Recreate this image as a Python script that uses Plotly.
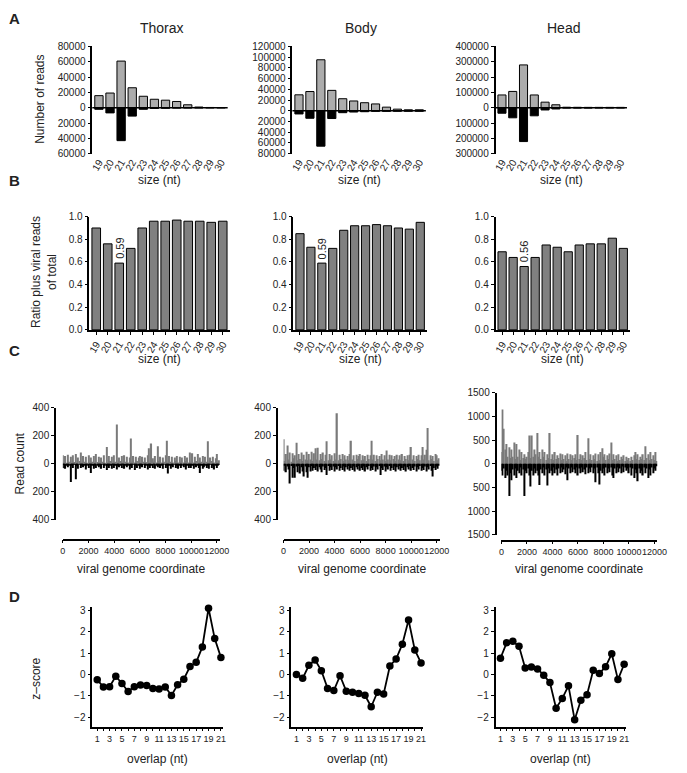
import plotly.graph_objects as go

W, H = 687, 773

# ---- data ----
sizes = list(range(19, 31))
tissues = ['Thorax', 'Body', 'Head']

# A: number of reads per size, plus strand (up) and minus strand (down)
thorax_plus = [15700, 19100, 60800, 26000, 14900, 11000, 9800, 8100, 3800, 850, 300, 200]
thorax_minus = [-2100, -6800, -43000, -11000, -2100, -1000, -800, -500, -300, -200, -100, -100]
body_plus = [29700, 35800, 95000, 38000, 22400, 18200, 15000, 12700, 6700, 3000, 1800, 1800]
body_minus = [-6000, -14000, -66000, -14500, -3600, -2400, -1800, -1000, -1000, -800, -800, -800]
head_plus = [83000, 106000, 279000, 83000, 36000, 19000, 3000, 2500, 2000, 2000, 2000, 2000]
head_minus = [-36000, -66000, -221000, -53000, -15000, -8500, -2000, -2000, -2000, -1500, -1500, -1500]

# B: ratio plus viral reads of total
thorax_ratio = [0.90, 0.76, 0.59, 0.72, 0.90, 0.96, 0.96, 0.97, 0.96, 0.96, 0.95, 0.96]
body_ratio = [0.85, 0.73, 0.59, 0.72, 0.88, 0.92, 0.92, 0.93, 0.92, 0.90, 0.89, 0.95]
head_ratio = [0.69, 0.64, 0.56, 0.64, 0.75, 0.73, 0.69, 0.75, 0.76, 0.76, 0.81, 0.72]
ratio_labels = ['0.59', '0.59', '0.56']

# C: read counts along the viral genome (every 100 nt)
coords = list(range(0, 12201, 100))
thorax_cov_plus = [
    60, 10, 55, 5, 65, 15, 50, 8, 60, 12,
    70, 5, 45, 20, 80, 10, 55, 15, 50, 5,
    60, 10, 45, 15, 55, 8, 70, 12, 50, 10,
    45, 15, 60, 5, 120, 10, 55, 20, 50, 8,
    60, 15, 280, 10, 45, 20, 55, 10, 60, 15,
    50, 10, 45, 180, 15, 55, 10, 50, 20, 45,
    55, 10, 50, 15, 45, 12, 60, 110, 10, 145,
    40, 15, 55, 10, 125, 20, 50, 10, 45, 15,
    60, 165, 10, 55, 15, 50, 10, 45, 20, 55,
    10, 50, 15, 45, 10, 55, 20, 45, 10, 80,
    15, 75, 10, 50, 20, 70, 10, 45, 15, 55,
    10, 50, 15, 160, 10, 45, 20, 50, 10, 40,
    70, 10, 25]
thorax_cov_minus = [
    -30, -5, -35, -10, -25, -8, -130, -10, -30, -5,
    -110, -10, -35, -5, -30, -12, -25, -8, -40, -10,
    -30, -5, -65, -10, -35, -8, -30, -12, -25, -10,
    -35, -5, -30, -10, -45, -8, -30, -12, -35, -5,
    -30, -10, -40, -8, -25, -12, -30, -5, -35, -10,
    -25, -8, -40, -10, -30, -5, -45, -12, -30, -8,
    -35, -10, -25, -5, -30, -12, -40, -8, -30, -10,
    -30, -5, -35, -10, -25, -8, -30, -12, -35, -5,
    -30, -10, -70, -8, -35, -12, -25, -5, -30, -10,
    -35, -8, -30, -12, -25, -5, -40, -10, -30, -8,
    -30, -10, -35, -5, -25, -12, -30, -65, -10, -35,
    -25, -8, -30, -12, -35, -5, -30, -10, -40, -8,
    -30, -10, -5]
body_cov_plus = [
    175, 20, 70, 130, 30, 80, 15, 75, 40, 60,
    150, 25, 70, 35, 80, 20, 65, 30, 85, 25,
    70, 30, 85, 20, 75, 110, 30, 115, 25, 70,
    35, 80, 20, 65, 160, 25, 70, 30, 60, 20,
    75, 30, 360, 25, 65, 35, 70, 20, 60, 30,
    55, 25, 70, 165, 30, 60, 20, 65, 35, 55,
    70, 25, 60, 30, 55, 20, 65, 35, 60, 165,
    30, 65, 20, 60, 35, 55, 25, 70, 30, 60,
    20, 95, 30, 65, 25, 60, 35, 55, 20, 65,
    30, 60, 25, 70, 20, 55, 35, 60, 25, 65,
    120, 30, 60, 20, 55, 35, 65, 25, 60, 120,
    30, 65, 100, 255, 25, 60, 35, 55, 20, 70,
    60, 25, 40]
body_cov_minus = [
    -50, -10, -60, -20, -40, -140, -15, -100, -30, -100,
    -20, -60, -15, -70, -25, -55, -90, -20, -60, -100,
    -25, -55, -15, -50, -30, -45, -20, -55, -25, -40,
    -60, -20, -45, -30, -80, -15, -50, -25, -45, -20,
    -55, -25, -40, -15, -50, -30, -45, -20, -55, -25,
    -40, -15, -50, -30, -45, -20, -55, -25, -40, -15,
    -50, -30, -45, -20, -55, -25, -40, -15, -50, -30,
    -45, -20, -55, -25, -40, -15, -80, -30, -45, -20,
    -55, -25, -40, -15, -50, -30, -45, -20, -55, -25,
    -40, -15, -50, -30, -45, -20, -55, -25, -40, -15,
    -50, -30, -45, -20, -55, -25, -40, -15, -50, -30,
    -45, -20, -55, -25, -40, -15, -50, -90, -30, -45,
    -20, -35, -10]
head_cov_plus = [
    250, 1150, 740, 300, 420, 150, 350, 120, 300, 150,
    450, 100, 420, 150, 300, 80, 250, 120, 200, 100,
    150, 250, 600, 120, 600, 150, 300, 200, 650, 150,
    250, 100, 300, 150, 250, 80, 200, 120, 650, 100,
    200, 80, 250, 100, 180, 120, 220, 80, 200, 100,
    180, 60, 220, 100, 200, 80, 180, 120, 200, 80,
    610, 100, 200, 80, 180, 120, 250, 80, 540, 100,
    200, 80, 180, 100, 220, 60, 200, 80, 250, 330,
    150, 200, 80, 180, 100, 220, 450, 80, 200, 100,
    180, 60, 200, 80, 150, 100, 180, 60, 150, 80,
    120, 60, 150, 80, 180, 250, 100, 200, 80, 150,
    100, 200, 80, 370, 120, 200, 80, 250, 100, 180,
    80, 250, 60]
head_cov_minus = [
    -150, -250, -100, -300, -150, -250, -680, -200, -350, -120,
    -250, -100, -300, -150, -200, -80, -250, -120, -680, -150,
    -200, -100, -250, -480, -150, -250, -100, -200, -150, -250,
    -450, -120, -200, -80, -250, -120, -460, -100, -200, -150,
    -250, -80, -200, -120, -250, -100, -200, -80, -180, -120,
    -220, -80, -350, -100, -200, -80, -180, -120, -200, -80,
    -250, -100, -200, -80, -180, -120, -220, -80, -200, -100,
    -180, -80, -200, -100, -390, -80, -200, -440, -150, -200,
    -100, -250, -80, -200, -100, -180, -80, -250, -300, -100,
    -200, -80, -180, -100, -200, -60, -180, -80, -150, -100,
    -200, -80, -250, -100, -300, -120, -200, -370, -100, -200,
    -150, -250, -80, -200, -100, -300, -120, -250, -80, -200,
    -100, -150, -50]

# D: z-score of overlap
overlap = list(range(1, 22))
thorax_z = [-0.25, -0.58, -0.57, -0.08, -0.42, -0.80, -0.57, -0.49, -0.52, -0.65, -0.68,
            -0.58, -0.98, -0.48, -0.22, 0.37, 0.57, 1.29, 3.10, 1.68, 0.80]
body_z = [0.00, -0.18, 0.43, 0.68, 0.18, -0.65, -0.75, -0.06, -0.78, -0.83, -0.89,
          -0.97, -1.51, -0.83, -0.91, 0.40, 0.72, 1.42, 2.55, 1.15, 0.54]
head_z = [0.76, 1.48, 1.55, 1.32, 0.30, 0.35, 0.26, -0.03, -0.38, -1.58, -1.12,
          -0.53, -2.12, -1.20, -0.95, 0.20, 0.05, 0.36, 0.97, -0.24, 0.48]

# ---- layout helpers ----
FONT = 'Liberation Sans, Arial, sans-serif'
TXT = '#222222'


def fx(p):
    return p / W


def fy(p):
    return 1 - p / H


fig = go.Figure()
shapes = []
annotations = []
n = 0


def new_axes(x0, x1, ytop, ybot, xax, yax, xpos=None, ypos=None):
    global n
    n += 1
    xk = 'xaxis' if n == 1 else f'xaxis{n}'
    yk = 'yaxis' if n == 1 else f'yaxis{n}'
    base = dict(showgrid=False, zeroline=False, showline=True, linecolor='black', linewidth=1.5,
                ticks='outside', ticklen=3, tickwidth=1.2, tickcolor='black',
                tickfont=dict(size=10, color=TXT, family=FONT))
    xd = dict(base, domain=[fx(x0), fx(x1)], anchor=f'y{n}' if n > 1 else 'y')
    yd = dict(base, domain=[fy(ybot), fy(ytop)], anchor=f'x{n}' if n > 1 else 'x')
    if xpos is not None:
        xd.update(anchor='free', position=fy(xpos))
    if ypos is not None:
        yd.update(anchor='free', position=fx(ypos))
    xd.update(xax)
    yd.update(yax)
    fig.update_layout({xk: xd, yk: yd})
    return ('x' if n == 1 else f'x{n}'), ('y' if n == 1 else f'y{n}')


def text(x, y, s, size=12, angle=0, bold=False, xanchor='center', yanchor='middle'):
    annotations.append(dict(x=fx(x), y=fy(y), xref='paper', yref='paper', text=f'<b>{s}</b>' if bold else s,
                            showarrow=False, textangle=angle, xanchor=xanchor, yanchor=yanchor,
                            font=dict(size=size, color=TXT, family=FONT)))


# ---- row A ----
a_boxes = [(91, 229), (295, 431), (502, 636)]
a_plus = [thorax_plus, body_plus, head_plus]
a_minus = [thorax_minus, body_minus, head_minus]
a_ranges = [(-60000, 80000, 20000), (-80000, 120000, 20000), (-300000, 400000, 100000)]
for (x0, x1), pl, mi, (lo, hi, st), name in zip(a_boxes, a_plus, a_minus, a_ranges, tissues):
    tv = list(range(lo, hi + 1, st))
    xr, yr = new_axes(x0, x1, 41, 150,
                      dict(range=[18.4, 30.6], tickvals=sizes, tickangle=-60, showline=False, ticks=''),
                      dict(range=[lo, hi], tickvals=tv, ticktext=[str(abs(v)) for v in tv]))
    fig.add_trace(go.Bar(x=sizes, y=pl, xaxis=xr, yaxis=yr, marker=dict(color='#acacac', line=dict(color='black', width=1))))
    fig.add_trace(go.Bar(x=sizes, y=mi, xaxis=xr, yaxis=yr, marker=dict(color='black', line=dict(color='black', width=1))))
    shapes.append(dict(type='line', xref=f'{xr} domain', x0=0, x1=1, yref=yr, y0=0, y1=0,
                       line=dict(color='black', width=1.5), layer='above'))
    text((x0 + x1) / 2 + 2, 22, name, size=14)
    text((x0 + x1) / 2, 177, 'size (nt)', size=12)

# ---- row B ----
b_boxes = [(88, 231), (296, 432), (502, 639)]
b_vals = [thorax_ratio, body_ratio, head_ratio]
for (x0, x1), vals, lab in zip(b_boxes, b_vals, ratio_labels):
    xr, yr = new_axes(x0, x1, 214, 329,
                      dict(range=[18.4, 30.6], tickvals=sizes, tickangle=-60),
                      dict(range=[0, 1.0], tickvals=[0, 0.2, 0.4, 0.6, 0.8, 1.0], tickformat='.1f'))
    fig.add_trace(go.Bar(x=sizes, y=vals, xaxis=xr, yaxis=yr, marker=dict(color='#808080', line=dict(color='black', width=1))))
    annotations.append(dict(x=21, y=vals[2], xref=xr, yref=yr, text=lab, showarrow=False, textangle=-90,
                            yanchor='bottom', xanchor='center', yshift=2,
                            font=dict(size=11, color=TXT, family=FONT)))
    text((x0 + x1) / 2, 359, 'size (nt)', size=12)

# ---- row C ----
c_specs = [
    (61, 221, 408, 522, 53, 542, 400, 200, thorax_cov_plus, thorax_cov_minus),
    (286, 445, 408, 522, 279, 542, 400, 200, body_cov_plus, body_cov_minus),
    (508, 667, 393, 537, 502, 543, 1500, 500, head_cov_plus, head_cov_minus),
]
xt = list(range(0, 12001, 2000))
for x0, x1, yt, yb, ypos, xpos, lim, st, pl, mi in c_specs:
    tv = list(range(-lim, lim + 1, st))
    xr, yr = new_axes(x0, x1, yt, yb,
                      dict(range=[0, 12230], tickvals=xt, ticktext=[str(v) for v in xt], tickangle=0,
                           tickfont=dict(size=9, color=TXT, family=FONT)),
                      dict(range=[-lim, lim], tickvals=tv, ticktext=[str(abs(v)) for v in tv]),
                      xpos=xpos, ypos=ypos)
    fig.add_trace(go.Bar(x=coords, y=pl, width=100, xaxis=xr, yaxis=yr,
                         marker=dict(color='#7a7a7a', line=dict(width=0))))
    fig.add_trace(go.Bar(x=coords, y=mi, width=100, xaxis=xr, yaxis=yr,
                         marker=dict(color='black', line=dict(width=0))))
    text((x0 + x1) / 2, 572, 'viral genome coordinate', size=12)

# ---- row D ----
d_specs = [(91, 224, thorax_z), (294, 428, body_z), (502, 635, head_z)]
for x0, x1, zs in d_specs:
    xr, yr = new_axes(x0, x1, 610, 732,
                      dict(range=[0.2, 21.3], tickvals=overlap, tickangle=0,
                           ticktext=[str(v) if v % 2 else '' for v in overlap],
                           tickfont=dict(size=9, color=TXT, family=FONT)),
                      dict(range=[-2.44, 3.18], tickvals=[-2, -1, 0, 1, 2, 3]))
    fig.add_trace(go.Scatter(x=overlap, y=zs, xaxis=xr, yaxis=yr, mode='lines+markers',
                             cliponaxis=False,
                             line=dict(color='black', width=1.8),
                             marker=dict(color='black', size=7.5)))
    text((x0 + x1) / 2, 765, 'overlap (nt)', size=12)

# ---- axis titles and panel letters ----
text(37, 95, 'Number of reads', size=12, angle=-90)
text(42, 270, 'Ratio plus viral reads<br>of total', size=12, angle=-90)
text(17, 465, 'Read count', size=12, angle=-90)
text(34, 683, 'z\u2013score', size=12, angle=-90)
for letter, y in [('A', 13), ('B', 177), ('C', 350), ('D', 600)]:
    text(4, y, letter, size=15, bold=True, xanchor='left')

fig.update_layout(
    width=W, height=H,
    margin=dict(l=0, r=0, t=0, b=0),
    paper_bgcolor='white', plot_bgcolor='white',
    showlegend=False, barmode='relative', bargap=0.25,
    font=dict(family=FONT, color=TXT),
    shapes=shapes, annotations=annotations,
)

fig.write_html('out.html', config={'displayModeBar': False},
               post_script="document.body.style.margin='0';")
